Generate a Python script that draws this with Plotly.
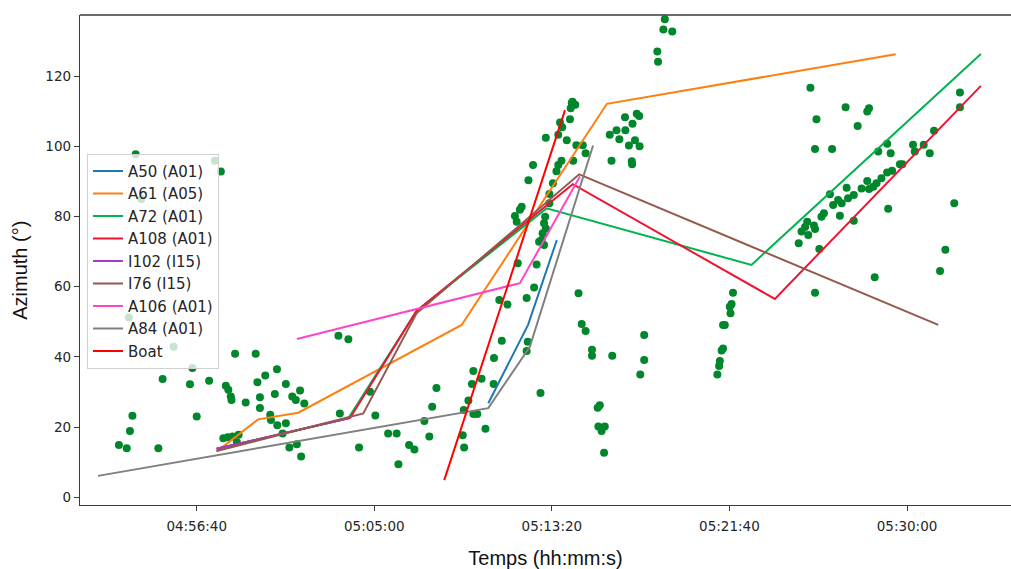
import plotly.graph_objects as go

BASE_DATE = "2020-01-01 "

# ---- model tracks (time hh:mm:ss, azimuth deg) ----
A50_t = ["05:10:21", "05:12:13", "05:13:34"]
A50_az = [26.8, 49.1, 73.3]

A61_t = ["04:57:36", "04:59:33", "05:01:26", "05:09:06", "05:15:55", "05:29:28"]
A61_az = [13.0, 22.2, 24.1, 49.1, 112.1, 126.2]

A72_t = ["04:57:36", "05:03:47", "05:06:59", "05:13:05", "05:22:42", "05:33:28"]
A72_az = [13.8, 22.5, 53.1, 82.3, 66.2, 126.3]

A108_t = ["04:57:36", "05:03:52", "05:06:59", "05:14:19", "05:23:48", "05:33:28"]
A108_az = [13.8, 22.6, 53.1, 89.2, 56.5, 117.2]

I102_t = ["04:57:36", "05:03:47"]
I102_az = [13.8, 22.5]

I76_t = ["04:57:36", "05:04:29", "05:06:59", "05:14:37", "05:31:28"]
I76_az = [13.2, 23.9, 52.4, 92.0, 49.1]

A106_t = ["05:01:22", "05:11:50", "05:14:39"]
A106_az = [45.1, 61.0, 91.4]

A84_t = ["04:52:02", "05:10:21", "05:12:18", "05:15:16"]
A84_az = [6.1, 25.4, 42.9, 100.2]

Boat_t = ["05:08:17", "05:13:57"]
Boat_az = [4.9, 110.3]

# ---- observed detections (green dots) ----
obs_t = [
    "04:53:01", "04:53:23", "04:53:32", "04:53:39", "04:54:52", "04:55:04", "04:56:21", "04:56:28",
    "04:56:40", "04:57:15", "04:58:02", "04:58:09", "04:58:16", "04:58:18", "04:58:28", "04:58:58",
    "04:59:26", "04:59:31", "04:59:38", "04:59:38", "04:59:53", "05:00:07", "05:00:09", "05:00:26",
    "05:00:20", "05:00:27", "05:00:42", "05:00:51", "05:00:51", "05:01:01", "05:01:09", "05:01:19",
    "05:01:22", "05:01:31", "05:01:34", "05:01:43", "04:57:55", "04:58:07", "04:58:21", "04:58:33",
    "04:58:38",
    "04:53:48", "04:57:31", "04:57:48", "04:54:04", "04:53:29", "04:55:35",
    "05:03:19", "05:03:47", "05:03:23", "05:04:48", "05:05:03", "05:04:17", "05:05:39", "05:06:03",
    "05:06:08", "05:06:38", "05:06:53", "05:07:21", "05:07:35", "05:07:43", "05:07:55", "05:09:09",
    "05:09:13", "05:09:25", "05:09:35", "05:09:39", "05:10:02", "05:09:12", "05:09:39", "05:09:50",
    "05:10:13", "05:10:36", "05:10:37", "05:10:59", "05:10:52", "05:11:15", "05:12:09", "05:12:30",
    "05:12:12", "05:12:09", "05:12:48", "05:14:35", "05:14:44", "05:14:55", "05:15:13", "05:15:13",
    "05:16:10", "05:15:35", "05:15:29", "05:15:31", "05:15:49", "05:15:40", "05:15:47", "05:17:40",
    "05:17:40", "05:17:29",
    "05:12:44", "05:12:58", "05:11:44", "05:12:37", "05:12:51", "05:12:54", "05:13:03", "05:12:58",
    "05:13:01", "05:11:55", "05:11:50", "05:11:36", "05:11:41", "05:13:13", "05:13:13", "05:13:23",
    "05:12:14", "05:12:27", "05:13:33", "05:13:38", "05:13:47", "05:14:20", "05:14:55", "05:14:29",
    "05:14:47", "05:14:02", "05:13:03", "05:13:38", "05:13:49", "05:13:43", "05:14:11", "05:14:16",
    "05:14:26", "05:14:13", "05:14:18",
    "05:16:46", "05:17:19", "05:17:26", "05:17:07", "05:16:22", "05:16:03", "05:16:30", "05:16:47",
    "05:17:14", "05:16:57", "05:17:27", "05:16:08", "05:17:05", "05:17:06", "05:18:38", "05:18:34",
    "05:18:59", "05:18:17", "05:18:19",
    "05:21:50", "05:21:46", "05:21:41", "05:21:43", "05:21:27", "05:21:22", "05:21:22", "05:21:18",
    "05:21:13", "05:21:11", "05:21:06",
    "05:25:41", "05:28:29", "05:25:28", "05:27:07", "05:28:13", "05:28:08", "05:25:45", "05:27:41",
    "05:25:41", "05:26:29", "05:32:29", "05:32:29", "05:31:16", "05:30:17", "05:30:47", "05:30:22",
    "05:31:04", "05:29:04", "05:28:39", "05:29:14", "05:29:40", "05:29:47", "05:29:18", "05:29:04",
    "05:28:48", "05:28:08", "05:28:34", "05:28:25", "05:27:52", "05:28:13", "05:27:10", "05:27:30",
    "05:26:23", "05:26:46", "05:27:14", "05:26:32", "05:26:56", "05:26:06", "05:26:51", "05:25:59",
    "05:25:19", "05:25:41", "05:25:03", "05:25:22", "05:24:55", "05:25:53", "05:27:30", "05:29:07",
    "05:32:13", "05:31:48", "05:31:33", "05:25:13", "05:25:38",
]
obs_az = [
    14.9, 14.0, 18.9, 23.2, 14.0, 33.7, 32.2, 36.8,
    23.0, 33.2, 31.8, 30.6, 28.7, 27.7, 40.9, 27.0,
    40.9, 32.8, 28.5, 25.4, 34.7, 23.5, 22.0, 36.5,
    29.4, 20.5, 18.2, 32.3, 21.1, 14.2, 28.7, 27.7,
    15.1, 30.4, 11.6, 26.7, 16.8, 17.1, 17.3, 15.7,
    17.8,
    97.7, 95.9, 92.8, 85.0, 51.2, 42.9,
    46.0, 45.0, 23.9, 30.1, 23.3, 14.2, 18.2, 18.2,
    9.4, 14.9, 13.6, 21.7, 17.3, 25.8, 31.1, 17.7,
    14.2, 27.6, 32.3, 36.0, 33.8, 24.9, 23.7, 23.7,
    19.5, 32.3, 39.7, 44.6, 56.2, 54.9, 56.8, 59.8,
    44.3, 41.7, 29.7, 58.1, 49.4, 47.4, 42.0, 40.3,
    40.3, 26.2, 25.5, 20.2, 20.2, 18.9, 12.7, 46.2,
    39.1, 35.0,
    72.8, 71.9, 66.7, 66.3, 73.3, 75.2, 76.6, 78.1,
    79.9, 82.8, 81.9, 80.1, 78.5, 83.8, 86.4, 89.5,
    90.3, 94.7, 92.9, 94.7, 95.9, 95.9, 98.0, 100.3,
    100.3, 101.7, 102.4, 103.3, 105.4, 106.8, 107.7, 112.3,
    111.8, 110.8, 112.7,
    108.3, 109.3, 108.6, 106.4, 104.6, 103.3, 102.0, 104.6,
    101.7, 100.2, 100.0, 95.9, 95.7, 94.9, 136.2, 133.3,
    132.7, 127.0, 124.1,
    58.3, 55.1, 54.3, 52.4, 49.1, 49.1, 42.4, 41.8,
    38.8, 37.4, 35.0,
    58.3, 62.7, 116.7, 111.1, 110.8, 109.9, 107.7, 105.8,
    99.2, 99.2, 115.3, 111.1, 104.4, 100.4, 100.4, 98.5,
    98.0, 100.7, 98.5, 98.0, 94.9, 94.9, 93.0, 92.5,
    90.9, 90.1, 89.5, 88.5, 88.0, 87.8, 88.2, 86.1,
    86.3, 84.7, 85.2, 83.3, 83.8, 80.9, 80.2, 79.9,
    78.5, 76.4, 75.7, 74.7, 72.4, 70.7, 78.8, 82.2,
    83.8, 70.5, 64.5, 77.0, 77.4,
]

tick_times = ["04:56:40", "05:05:00", "05:13:20", "05:21:40", "05:30:00"]
y_ticks = [0, 20, 40, 60, 80, 100, 120]
x_range = ["04:51:11.4", "05:34:52.8"]
y_range = [-2.2, 137.4]


def dt(lst):
    return [BASE_DATE + t for t in lst]


tracks = [
    ("A50 (A01)", "#1f77b4", A50_t, A50_az),
    ("A61 (A05)", "#ff7f0e", A61_t, A61_az),
    ("A72 (A01)", "#00b34f", A72_t, A72_az),
    ("A108 (A01)", "#ee1432", A108_t, A108_az),
    ("I102 (I15)", "#a23cc4", I102_t, I102_az),
    ("I76 (I15)", "#94584d", I76_t, I76_az),
    ("A106 (A01)", "#ff45c6", A106_t, A106_az),
    ("A84 (A01)", "#808080", A84_t, A84_az),
    ("Boat", "#ff0000", Boat_t, Boat_az),
]

fig = go.Figure()
fig.add_trace(go.Scatter(
    x=dt(obs_t), y=obs_az, mode="markers", showlegend=False,
    marker=dict(color="#00862b", size=8, line=dict(width=0)),
))
for name, color, t, az in tracks:
    fig.add_trace(go.Scatter(
        x=dt(t), y=az, mode="lines", name=name,
        line=dict(color=color, width=2),
    ))

SPINE = "#3a3a3a"
axis_common = dict(
    showgrid=False, zeroline=False, showline=True, linecolor=SPINE, linewidth=1.3,
    mirror=False, ticks="outside", ticklen=5, tickcolor=SPINE, tickwidth=1.2,
    tickfont=dict(family="DejaVu Sans", size=13.5, color="#262626"),
)

fig.update_layout(
    width=1011, height=569,
    margin=dict(l=80, r=0, t=15, b=64, autoexpand=False),
    paper_bgcolor="white", plot_bgcolor="white",
    xaxis=dict(
        type="date", range=dt(x_range), tickvals=dt(tick_times), ticktext=tick_times,
        ticklabelstandoff=4,
        title=dict(text="Temps (hh:mm:s)", standoff=18,
                   font=dict(family="Liberation Sans", size=20, color="#111111")),
        **axis_common,
    ),
    yaxis=dict(range=y_range, tickvals=y_ticks, **axis_common),
    legend=dict(
        x=0.0075, y=0.717, xanchor="left", yanchor="top",
        bgcolor="rgba(255,255,255,0.78)", bordercolor="#d0d0d0", borderwidth=1,
        font=dict(family="DejaVu Sans", size=15, color="#262626"),
        tracegroupgap=0, itemwidth=30, entrywidth=100, entrywidthmode="pixels",
    ),
    shapes=[dict(type="line", xref="paper", yref="paper", x0=0, x1=1, y0=1, y1=1,
                 line=dict(color=SPINE, width=1.3))],
    annotations=[dict(
        text="Azimuth (°)", textangle=-90, xref="paper", yref="paper",
        x=-0.0645, y=0.48, xanchor="center", yanchor="middle", showarrow=False,
        font=dict(family="Liberation Sans", size=20, color="#111111"),
    )],
)

fig.write_html("out.html", config={"displayModeBar": False},
               post_script="document.body.style.margin='0px';")
